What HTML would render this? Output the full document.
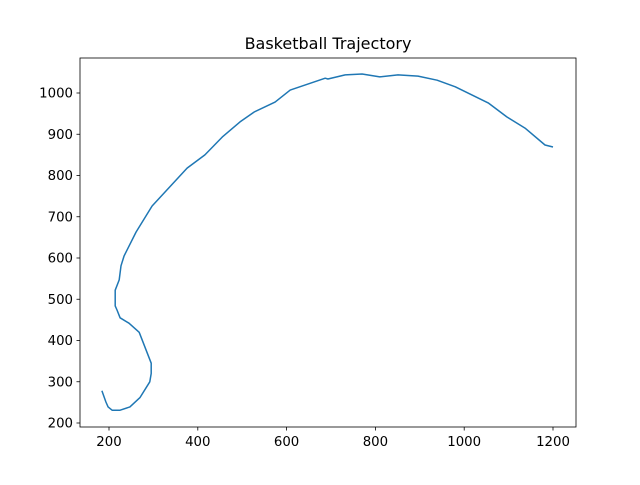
<!DOCTYPE html>
<html><head><meta charset="utf-8"><style>
body{margin:0;background:#fff}
svg text{font-family:"DejaVu Sans","Liberation Sans",sans-serif;font-size:13.3px;fill:#000}
</style></head><body>
<svg id="chart" width="640" height="480">
<rect x="0" y="0" width="640" height="480" fill="#fff"/>
<text x="328" y="49" text-anchor="middle" style="font-size:16px">Basketball Trajectory</text>
<g id="ticks"></g>
<path id="line" fill="none" stroke="#1f77b4" stroke-width="1.5" stroke-linejoin="round"/>
<rect x="80" y="58" width="496" height="369" fill="none" stroke="#000" stroke-width="0.8"/>
</svg>
<script>
const xVals=[184,193,198,207,225,247,270,292,295,295,268,245,225,218,214,214,223,227,234,261,297,376,416,455,495,527,574,608,687,693,732,770,810,851,896,939,980,1054,1096,1137,1182,1200];
const yVals=[278,251,239,231,231,239,262,300,320,345,420,442,455,474,484,522,547,581,605,663,726,818,850,893,930,954,978,1007,1036,1034,1044,1046,1039,1044,1041,1031,1015,976,942,915,874,869];
const xTicks=[200,400,600,800,1000,1200];
const yTicks=[200,300,400,500,600,700,800,900,1000];
function sx(v){return 109+(v-200)*0.444;}
function sy(v){return 423-(v-200)*0.4125;}
const ns="http://www.w3.org/2000/svg";
const g=document.getElementById('ticks');
xTicks.forEach(t=>{
  const l=document.createElementNS(ns,'line');
  
  
  l.setAttribute('x1',sx(t));l.setAttribute('x2',sx(t));l.setAttribute('y1',427);l.setAttribute('y2',430.5);l.setAttribute('stroke','#000');l.setAttribute('stroke-width','0.8');g.appendChild(l);
  const tx=document.createElementNS(ns,'text');
  
  
  tx.setAttribute('x',sx(t));tx.setAttribute('y',446);tx.setAttribute('text-anchor','middle');tx.textContent=t;g.appendChild(tx);
});
yTicks.forEach(t=>{
  const l=document.createElementNS(ns,'line');
  
  
  l.setAttribute('x1',76.5);l.setAttribute('x2',80);l.setAttribute('y1',sy(t));l.setAttribute('y2',sy(t));l.setAttribute('stroke','#000');l.setAttribute('stroke-width','0.8');g.appendChild(l);
  const tx=document.createElementNS(ns,'text');
  
  
  tx.setAttribute('x',73);tx.setAttribute('y',sy(t)+4.5);tx.setAttribute('text-anchor','end');tx.textContent=t;g.appendChild(tx);
});
document.getElementById('line').setAttribute('d',xVals.map((v,i)=>(i?'L':'M')+sx(v).toFixed(1)+','+sy(yVals[i]).toFixed(1)).join(' '));
</script>
</body></html>
